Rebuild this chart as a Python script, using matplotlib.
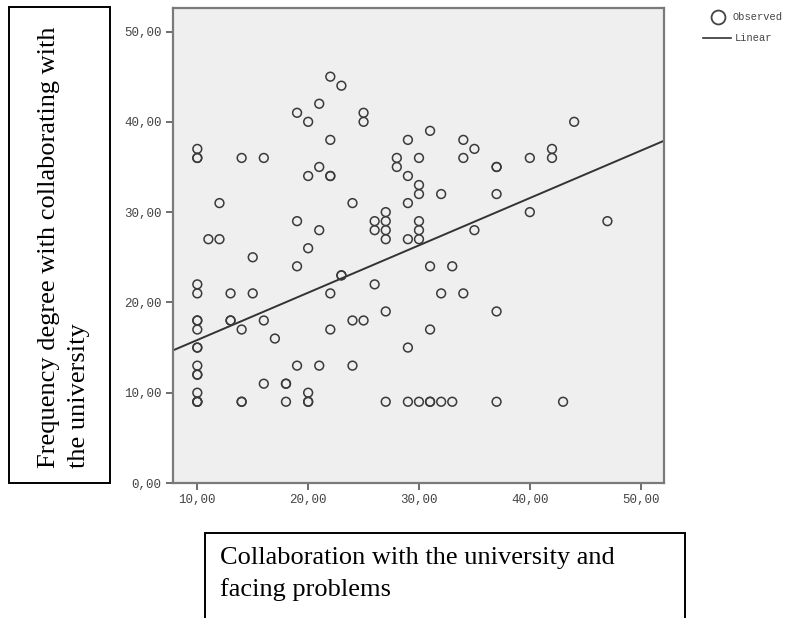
import numpy as np
import matplotlib
matplotlib.use("Agg")
import matplotlib.pyplot as plt
from matplotlib.patches import Rectangle
from matplotlib.lines import Line2D

collab_x = [10] * 17 + [11] + [12] * 2 + [13] * 3 + [14] * 4 + [15] * 2 + [16] * 3 + [17] \
    + [18] * 3 + [19] * 4 + [20] * 6 + [21] * 4 + [22] * 6 + [23] * 3 + [24] * 3 + [25] * 3 \
    + [26] * 3 + [27] * 6 + [28] * 2 + [29] * 6 + [30] * 7 + [31] * 5 + [32] * 3 + [33] * 2 \
    + [34] * 3 + [35] * 2 + [37] * 5 + [40] * 2 + [42] * 2 + [43] + [44] + [47]
freq_y = [37, 36, 36, 22, 21, 18, 18, 17, 15, 15, 13, 12, 12, 10, 9, 9, 9,
          27,
          31, 27,
          21, 18, 18,
          36, 17, 9, 9,
          25, 21,
          36, 18, 11,
          16,
          11, 11, 9,
          41, 29, 24, 13,
          40, 34, 26, 10, 9, 9,
          42, 35, 28, 13,
          45, 38, 34, 34, 21, 17,
          44, 23, 23,
          31, 18, 13,
          41, 40, 18,
          29, 28, 22,
          30, 29, 28, 27, 19, 9,
          36, 35,
          38, 34, 31, 27, 15, 9,
          36, 33, 32, 29, 28, 27, 9,
          39, 24, 17, 9, 9,
          32, 21, 9,
          24, 9,
          38, 36, 21,
          37, 28,
          35, 35, 32, 19, 9,
          36, 30,
          37, 36,
          9,
          40,
          29]

# linear fit as drawn in the picture
fit_intercept = 10.6
fit_slope = 0.524

x_ticks = [10, 20, 30, 40, 50]
y_ticks = [0, 10, 20, 30, 40, 50]

x = np.array(collab_x, dtype=float)
y = np.array(freq_y, dtype=float)

fig = plt.figure(figsize=(8.04, 6.18), dpi=100)
ax = fig.add_axes([0.2148, 0.2184, 0.6110, 0.7686])
ax.set_facecolor("#efefef")

ax.scatter(x, y, s=40, facecolors="none", edgecolors="#3a3a3a", linewidths=1.1, zorder=3)
xl = np.array([7.78, 52.1])
ax.plot(xl, fit_intercept + fit_slope * xl, color="#333333", lw=1.4, zorder=2)

ax.set_xlim(7.78, 52.1)
ax.set_ylim(0, 52.6)
ax.set_xticks(x_ticks)
ax.set_yticks(y_ticks)
ax.set_xticklabels(["{:.2f}".format(v).replace(".", ",") for v in x_ticks])
ax.set_yticklabels(["{:.2f}".format(v).replace(".", ",") for v in y_ticks])
ax.tick_params(direction="out", length=5, width=1.2, color="#555555",
               labelsize=9, labelcolor="#444444", pad=3)
for lab in ax.get_xticklabels() + ax.get_yticklabels():
    lab.set_family("Liberation Mono")
for s in ax.spines.values():
    s.set_color("#7a7a7a")
    s.set_linewidth(1.6)

# Legend
fig.add_artist(Line2D([718 / 804], [1 - 17 / 618], marker="o", markersize=10,
                      markerfacecolor="none", markeredgecolor="#444444",
                      markeredgewidth=1.3, transform=fig.transFigure))
fig.text(733 / 804, 1 - 17 / 618, "Observed", family="Liberation Mono", fontsize=7.5,
         color="#444444", va="center", ha="left")
fig.add_artist(Line2D([703 / 804, 731 / 804], [1 - 38 / 618] * 2, color="#333333",
                      lw=1.2, transform=fig.transFigure))
fig.text(735 / 804, 1 - 38 / 618, "Linear", family="Liberation Mono", fontsize=7.5,
         color="#444444", va="center", ha="left")

# Axis title boxes
fig.add_artist(Rectangle((9 / 804, 1 - 483 / 618), 101 / 804, 476 / 618, fill=False,
                         edgecolor="black", lw=1.4, transform=fig.transFigure))
fig.text(64 / 804, 1 - 247 / 618, "Frequency degree with collaborating with\nthe university",
         rotation=90, family="Liberation Serif", fontsize=19, ha="center", va="center",
         linespacing=1.45, multialignment="left")

fig.add_artist(Rectangle((205 / 804, -0.05), 480 / 804, 0.05 + 85 / 618, fill=False,
                         edgecolor="black", lw=1.4, transform=fig.transFigure))
fig.text(220 / 804, 1 - 574 / 618, "Collaboration with the university and\nfacing problems",
         family="Liberation Serif", fontsize=19, ha="left", va="center", linespacing=1.45)

fig.savefig("out.png", dpi=100)
